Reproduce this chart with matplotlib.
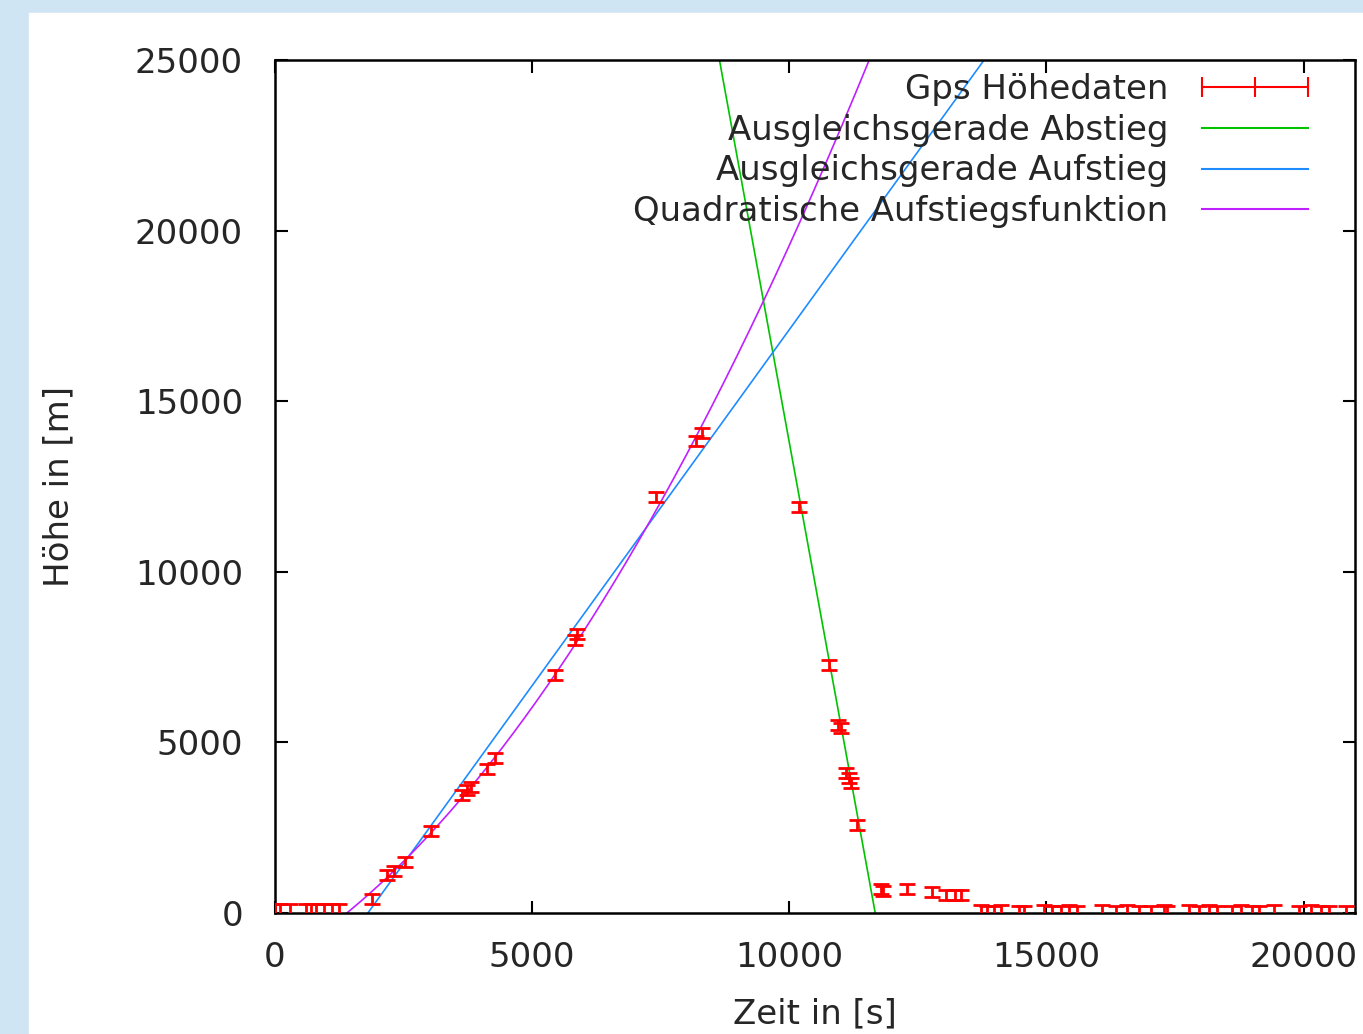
import matplotlib.pyplot as plt
import numpy as np
from matplotlib.lines import Line2D
from matplotlib.patches import Rectangle

# gps data (time in s, height in m)
t_ground_start = [0, 100, 300, 600, 700, 800, 950, 1100, 1250]
h_ground_start = [100, 110, 90, 100, 110, 95, 100, 105, 95]

t_up = [1884, 2175, 2311, 2524, 3030, 3631, 3729, 3806, 4117, 4272,
        5437, 5826, 5864, 7418, 8195, 8311]
h_up = [410, 1114, 1231, 1495, 2403, 3459, 3605, 3693, 4220, 4543,
        6976, 8002, 8178, 12193, 13834, 14069]

t_down = [10195, 10778, 10952, 11010, 11107, 11166, 11205, 11321,
          11787, 11826, 12292, 12778, 13050, 13225, 13341]
h_down = [11900, 7269, 5510, 5422, 4103, 3957, 3810, 2579,
          703, 645, 703, 615, 528, 528, 528]

t_ground_end = [13730, 13846, 13982, 14118, 14468, 14565, 14953, 15109, 15283,
                15439, 15594, 16080, 16352, 16565, 16798, 17031, 17284, 17342,
                17769, 17963, 18157, 18313, 18604, 18779, 18993, 19129, 19420,
                19906, 20139, 20333, 20488, 20818]
h_ground_end = [60, 50, 55, 60, 50, 55, 60, 55, 50,
                60, 55, 60, 55, 60, 55, 50, 60, 55,
                60, 55, 60, 50, 55, 60, 55, 50, 60,
                55, 60, 50, 55, 45]

h_err = 160

# fit parameters
down_slope, down_t0 = -8.254, 11671      # h = slope*(t - t0)
up_slope, up_t0 = 2.0865, 1806
quad_a, quad_b, quad_t0 = 1.2025e-4, 1.2403, 1398

t = np.concatenate([t_ground_start, t_up, t_down, t_ground_end])
h = np.concatenate([h_ground_start, h_up, h_down, h_ground_end])

txt = '#262626'
plt.rcParams['font.family'] = 'DejaVu Sans'
plt.rcParams['font.size'] = 24.5

fig = plt.figure(figsize=(13.63, 10.34), dpi=100, facecolor='#d0e5f3')
fig.patches.append(Rectangle((29 / 1363, 0), 1, 1 - 13 / 1034,
                             transform=fig.transFigure, color='white', zorder=-10))
ax = fig.add_axes([275 / 1363, 1 - 913 / 1034, 1080 / 1363, 853 / 1034])

tt = np.linspace(0, 21000, 2000)
ax.errorbar(t, h, yerr=h_err, fmt='none', ecolor='red', elinewidth=2,
            capsize=5.5, capthick=2, zorder=3)
ax.plot(tt, down_slope * (tt - down_t0), color='#00c400', lw=1.2, zorder=2)
ax.plot(tt, up_slope * (tt - up_t0), color='#1e8cff', lw=1.2, zorder=2)
ax.plot(tt, quad_a * (tt - quad_t0) ** 2 + quad_b * (tt - quad_t0),
        color='#c020ff', lw=1.2, zorder=2)

ax.set_xlim(0, 21000)
ax.set_ylim(0, 25000)
ax.set_xticks([0, 5000, 10000, 15000, 20000])
ax.set_yticks([0, 5000, 10000, 15000, 20000, 25000])
ax.tick_params(direction='in', length=9, width=1.5, top=True, right=True,
               colors='black', labelcolor=txt, pad=20)
ax.tick_params(axis='y', pad=23)
for s in ax.spines.values():
    s.set_linewidth(1.8)

ax.set_xlabel('Zeit in [s]', color=txt, labelpad=17)
ax.set_ylabel('Höhe in [m]', color=txt, labelpad=43)

handles = [Line2D([], [], color='red', lw=1.5, marker='|', markersize=14, markeredgewidth=1.5),
           Line2D([], [], color='#00c400', lw=1.5),
           Line2D([], [], color='#1e8cff', lw=1.5),
           Line2D([], [], color='#c020ff', lw=1.5)]
labels = ['Gps Höhedaten', 'Ausgleichsgerade Abstieg',
          'Ausgleichsgerade Aufstieg', 'Quadratische Aufstiegsfunktion']
leg = ax.legend(handles, labels, loc='upper right', frameon=False, markerfirst=False,
                numpoints=3, handlelength=3.7, handletextpad=0.7, labelspacing=0.23,
                borderaxespad=0, borderpad=0, bbox_to_anchor=(0.9657, 0.985))
for tx in leg.get_texts():
    tx.set_color(txt)

fig.savefig('out.png', dpi=100, facecolor=fig.get_facecolor())
